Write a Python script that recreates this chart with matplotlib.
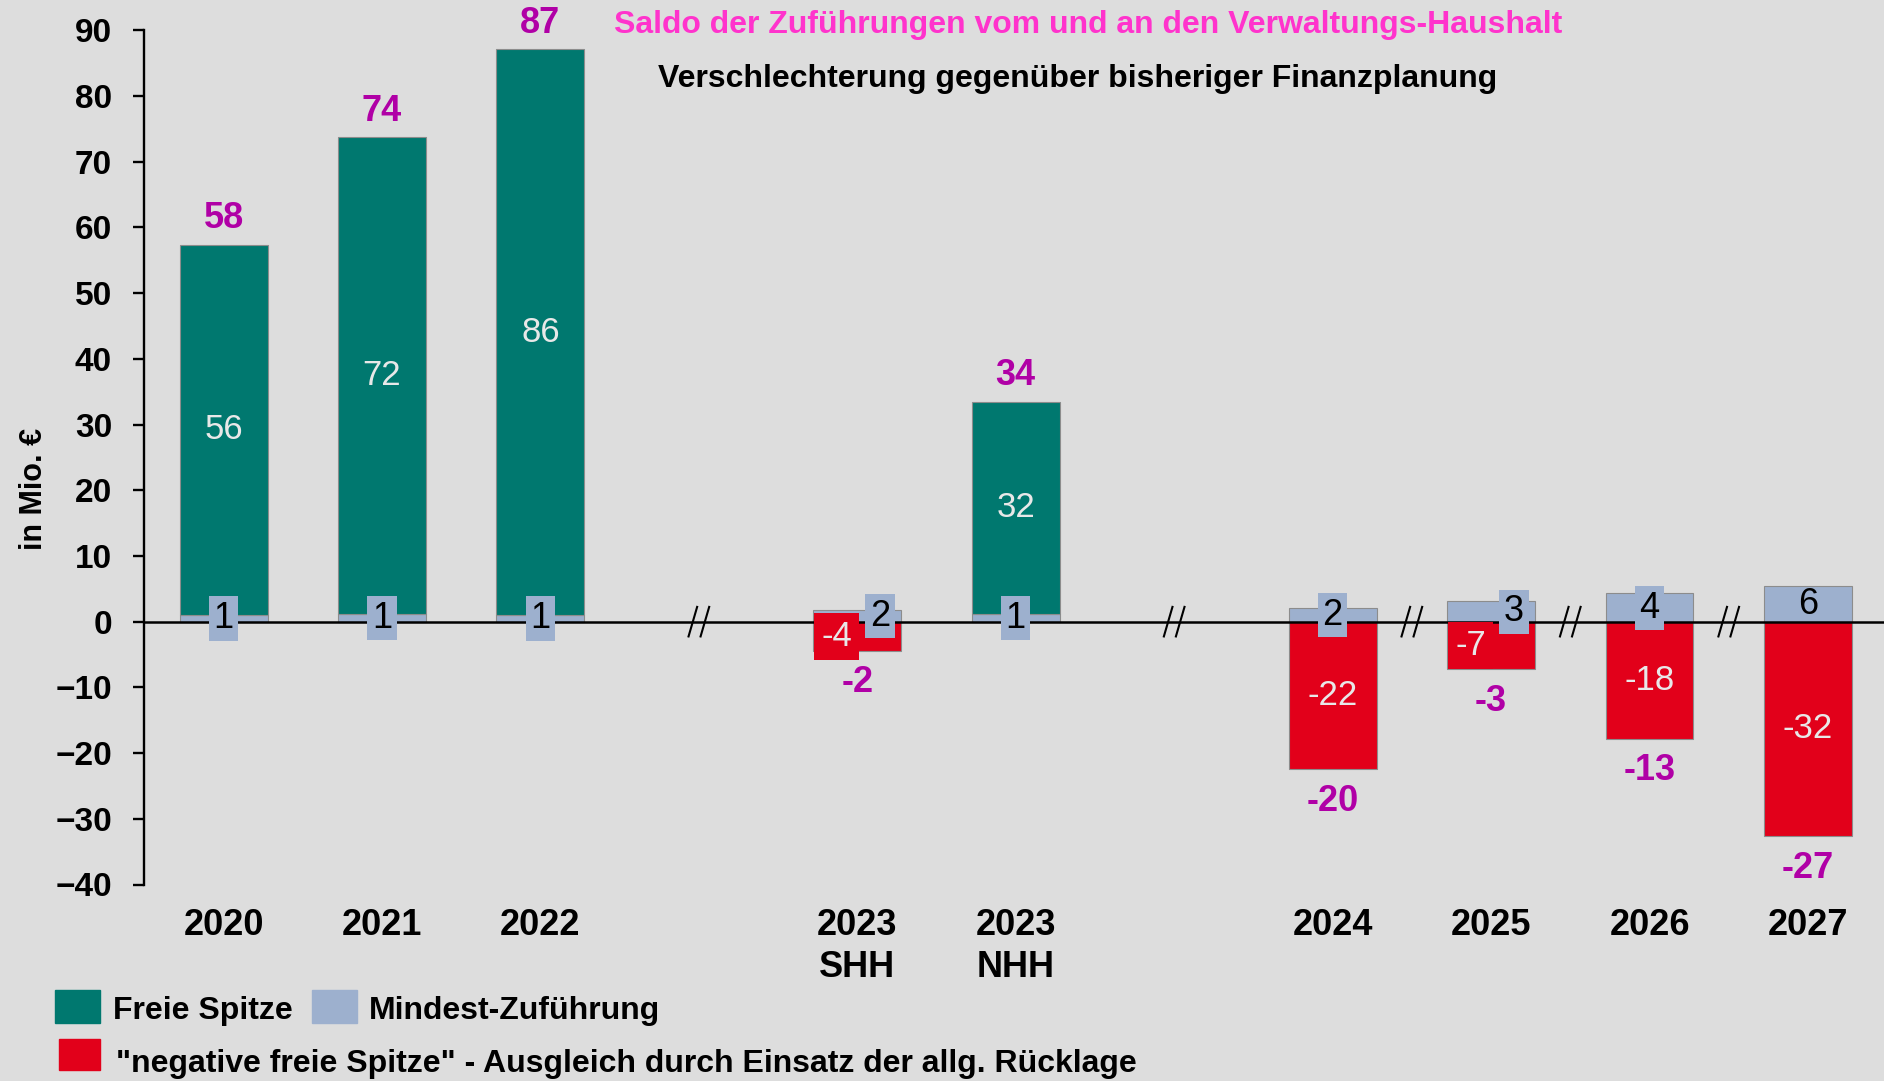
import matplotlib
matplotlib.use("Agg")
import matplotlib.pyplot as plt
from matplotlib.patches import Rectangle

# =========================================================
# DATA
# =========================================================
categories = ["2020", "2021", "2022", "2023\nSHH", "2023\nNHH", "2024", "2025", "2026", "2027"]
period = [0, 0, 0, 1, 1, 2, 2, 2, 2]          # planning blocks, separated by a break

mindest = [1.0, 1.1, 1.0, 1.8, 1.1, 2.1, 3.2, 4.4, 5.4]
freie = [56.4, 72.6, 86.1, -4.4, 32.4, -22.4, -7.2, -17.8, -32.6]

mindest_labels = [1, 1, 1, 2, 1, 2, 3, 4, 6]
freie_labels = [56, 72, 86, -4, 32, -22, -7, -18, -32]
saldo_labels = [58, 74, 87, -2, 34, -20, -3, -13, -27]

title_1 = "Saldo der Zuführungen vom und an den Verwaltungs-Haushalt"
title_2 = "Verschlechterung gegenüber bisheriger Finanzplanung"
legend_labels = ["Freie Spitze", "Mindest-Zuführung",
                 "\"negative freie Spitze\" - Ausgleich durch Einsatz der allg. Rücklage"]

# =========================================================
# STYLE
# =========================================================
BG = "#dddddd"
TEAL = "#00786f"
BLUEGRAY = "#9db0ce"
RED = "#e2001a"
PURPLE = "#b000a6"
PINK = "#ff33cc"
INNER = "#e8e8e8"
EDGE = "#8c8c8c"

plt.rcParams["font.family"] = ["Liberation Sans", "DejaVu Sans"]

W, H = 1884, 1081
fig = plt.figure(figsize=(W / 100, H / 100), dpi=100, facecolor=BG)
ax = fig.add_axes([144 / W, 1 - 884.5 / H, 1 - 144 / W, (884.5 - 30.3) / H])
ax.set_facecolor(BG)

# slot positions: one empty slot between planning blocks
slots = [i + p for i, p in enumerate(period)]
width = 0.555

# =========================================================
# BARS
# =========================================================
for x, m, f in zip(slots, mindest, freie):
    ax.bar(x, m, width, bottom=0, color=BLUEGRAY, edgecolor=EDGE, linewidth=0.8, zorder=2)
    if f >= 0:
        ax.bar(x, f, width, bottom=m, color=TEAL, edgecolor=EDGE, linewidth=0.8, zorder=2)
    else:
        ax.bar(x, f, width, bottom=0, color=RED, edgecolor=EDGE, linewidth=0.8, zorder=2)

ax.axhline(0, color="black", lw=1.8, zorder=3)

# break marks on the zero line
breaks = [3, 6, 7.5, 8.5, 9.5]
for b in breaks:
    for k in (-1, 1):
        xc = b + k * 0.038
        ax.plot([xc - 0.029, xc + 0.029], [-2.4, 2.4], color="black", lw=1.5,
                zorder=4, solid_capstyle="butt")

# =========================================================
# LABELS
# =========================================================
for x, m, f, ml, fl, sl in zip(slots, mindest, freie, mindest_labels, freie_labels, saldo_labels):
    small = f < 0 and abs(f) < 10
    # Mindest-Zuführung
    box = dict(boxstyle="square,pad=0.13", fc=BLUEGRAY, ec="none") if m < 5 else None
    ax.text(x + (0.145 if small else 0), m * 0.47, str(ml), ha="center", va="center",
            fontsize=26, color="black", bbox=box, zorder=6)
    # freie Spitze
    if f >= 0:
        ax.text(x, m + f / 2, str(fl), ha="center", va="center", fontsize=25,
                color=INNER, zorder=5)
        ax.text(x, m + f + 4.0, str(sl), ha="center", va="center", fontsize=26,
                fontweight="bold", color=PURPLE, zorder=5)
    else:
        ax.text(x - (0.13 if small else 0), f / 2, str(fl), ha="center", va="center",
                fontsize=25, color=INNER, zorder=5,
                bbox=dict(boxstyle="square,pad=0.2", fc=RED, ec="none"))
        ax.text(x, f - 4.9, str(sl), ha="center", va="center", fontsize=26,
                fontweight="bold", color=PURPLE, zorder=5)

# =========================================================
# AXES
# =========================================================
ax.set_xlim(-0.502, 10.48)
ax.set_ylim(-40, 90)
ax.set_yticks(range(-40, 91, 10))
ax.tick_params(axis="y", direction="out", length=8, width=1.7, pad=15, labelsize=24)
for lbl in ax.get_yticklabels():
    lbl.set_fontweight("bold")
ax.set_xticks(slots)
ax.set_xticklabels(categories, fontsize=26, fontweight="bold", linespacing=1.25)
ax.tick_params(axis="x", length=0, pad=17)
for s in ["top", "right", "bottom"]:
    ax.spines[s].set_visible(False)
ax.spines["left"].set_linewidth(1.7)

fig.text(34 / W, 1 - 489 / H, "in Mio. €", rotation=90, ha="center", va="center",
         fontsize=22, fontweight="bold")

# titles
fig.text(1088 / W, 1 - 25 / H, title_1, ha="center", va="center", fontsize=23,
         fontweight="bold", color=PINK)
fig.text(1078 / W, 1 - 79 / H, title_2, ha="center", va="center", fontsize=23,
         fontweight="bold", color="black")

# =========================================================
# LEGEND
# =========================================================
legend_items = [
    (55, 990, 45, 33, TEAL, 113, 1011, legend_labels[0]),
    (312, 990, 45, 33, BLUEGRAY, 369, 1011, legend_labels[1]),
    (59, 1039, 41, 31, RED, 116, 1064, legend_labels[2]),
]
for x0, y0, w, h, c, tx, ty, txt in legend_items:
    fig.patches.append(Rectangle((x0 / W, 1 - (y0 + h) / H), w / W, h / H,
                                 transform=fig.transFigure, color=c))
    fig.text(tx / W, 1 - ty / H, txt, ha="left", va="center", fontsize=23,
             fontweight="bold")

fig.savefig("out.png", dpi=100, facecolor=BG)
